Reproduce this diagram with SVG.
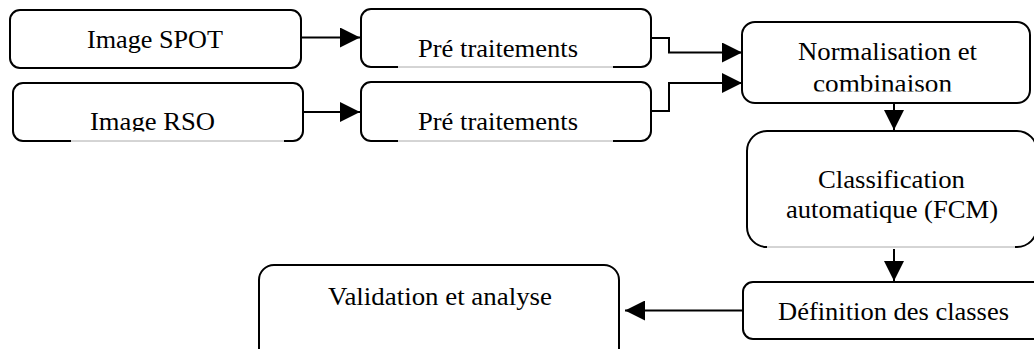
<svg xmlns="http://www.w3.org/2000/svg" width="1034" height="349" viewBox="0 0 1034 349">
<style>
.box{fill:#fff;stroke:#000;stroke-width:2}
.gap{fill:#fff;stroke:none}
.thin{stroke:#aaa;stroke-width:1;fill:none}
.lbl{font-size:26px;fill:#000;text-anchor:middle}
.con{fill:none;stroke:#000;stroke-width:2}
</style>
<defs>
<marker id="ah" markerUnits="userSpaceOnUse" markerWidth="20" markerHeight="20" refX="20" refY="10" orient="auto" viewBox="0 0 20 20">
<path d="M0,0 L20,10 L0,20 z" fill="#000"/>
</marker>
<clipPath id="clipRSO"><rect x="0" y="0" width="340" height="131.5"/></clipPath>
<clipPath id="clipComb"><rect x="700" y="0" width="334" height="91.5"/></clipPath>
</defs>
<rect width="1034" height="349" fill="#fff"/>

<g id="connectors">
<path class="con" d="M301,37.5 H360" marker-end="url(#ah)"/>
<path class="con" d="M304,112 H360" marker-end="url(#ah)"/>
<path class="con" d="M651,38 H669 V52.5 H742" marker-end="url(#ah)"/>
<path class="con" d="M651,111 H669 V83 H742" marker-end="url(#ah)"/>
<path class="con" d="M894,103 V130" marker-end="url(#ah)"/>
<path class="con" d="M894,247 V281" marker-end="url(#ah)"/>
<path class="con" d="M743,310.5 H625" marker-end="url(#ah)"/>
</g>

<g font-family="'Liberation Serif', 'Times New Roman', serif">
<g id="node-spot">
<rect class="box" x="10" y="10" width="291" height="58" rx="10" ry="10"/>
<text class="lbl" x="155" y="48" textLength="136" lengthAdjust="spacingAndGlyphs">Image SPOT</text>
</g>

<g id="node-rso">
<rect class="box" x="13" y="83" width="290" height="58" rx="10" ry="10"/>
<rect class="gap" x="71" y="139" width="213" height="4"/>
<line class="thin" x1="71" y1="141" x2="284" y2="141"/>
<text class="lbl" x="152.5" y="130" textLength="125" lengthAdjust="spacingAndGlyphs" clip-path="url(#clipRSO)">Image RSO</text>
</g>

<g id="node-pre1">
<rect class="box" x="361" y="9" width="290" height="58" rx="10" ry="10"/>
<rect class="gap" x="398" y="65" width="215" height="4"/>
<line class="thin" x1="398" y1="67" x2="613" y2="67"/>
<text class="lbl" x="498" y="57" textLength="160" lengthAdjust="spacingAndGlyphs">Pré traitements</text>
</g>

<g id="node-pre2">
<rect class="box" x="361" y="82" width="290" height="59" rx="10" ry="10"/>
<rect class="gap" x="398" y="139" width="215" height="4"/>
<line class="thin" x1="398" y1="141" x2="613" y2="141"/>
<text class="lbl" x="498" y="130" textLength="160" lengthAdjust="spacingAndGlyphs">Pré traitements</text>
</g>

<g id="node-norm">
<rect class="box" x="742" y="22" width="288" height="81" rx="13" ry="13"/>
<text class="lbl" x="887.5" y="60" textLength="179" lengthAdjust="spacingAndGlyphs">Normalisation et</text>
<text class="lbl" x="882.5" y="92" textLength="139" lengthAdjust="spacingAndGlyphs" clip-path="url(#clipComb)">combinaison</text>
</g>

<g id="node-class">
<rect class="box" x="747" y="131" width="290" height="116" rx="20" ry="20"/>
<rect class="gap" x="767" y="245" width="248" height="4"/>
<line class="thin" x1="767" y1="247" x2="1015" y2="247"/>
<text class="lbl" x="891.5" y="188" textLength="147" lengthAdjust="spacingAndGlyphs">Classification</text>
<text class="lbl" x="892" y="218" textLength="212" lengthAdjust="spacingAndGlyphs">automatique (FCM)</text>
</g>

<g id="node-def">
<rect class="box" x="743" y="282" width="300" height="57" rx="10" ry="10"/>
<text class="lbl" x="893.5" y="320" textLength="231" lengthAdjust="spacingAndGlyphs">Définition des classes</text>
</g>

<g id="node-valid">
<rect class="box" x="259" y="265" width="360" height="100" rx="15" ry="15"/>
<text class="lbl" x="440" y="305" textLength="224" lengthAdjust="spacingAndGlyphs">Validation et analyse</text>
</g>
</g>
</svg>
